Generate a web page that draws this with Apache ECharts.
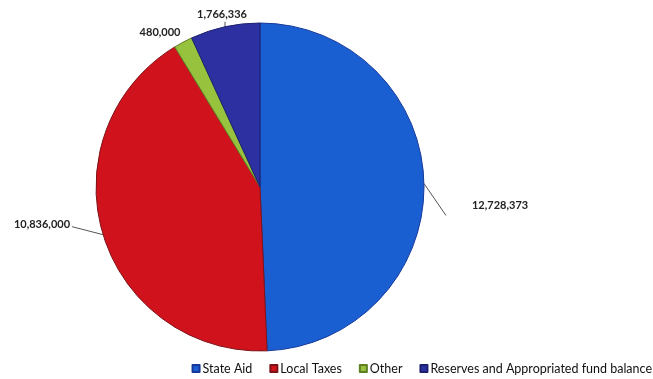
<!DOCTYPE html>
<html>
<head>
<meta charset="utf-8">
<script src="https://cdn.jsdelivr.net/npm/echarts@6/dist/echarts.min.js"></script>
<style>html,body{margin:0;padding:0;background:#fff}#c{width:653px;height:379px}</style>
</head>
<body>
<div id="c"></div>
<script>
const categories = ['State Aid', 'Local Taxes', 'Other', 'Reserves and Appropriated fund balance'];
const values = [12728373, 10836000, 480000, 1766336];
const colors = ['#1a5fd2', '#d0121c', '#96c23e', '#2c30a0'];
const borders = ['#15389a', '#7d1218', '#5f7d22', '#1b206e'];
// leader-line end and label anchor, as offsets from the slice's edge point
const lineEnd = [[22, 32], [-31, -8], [0, 0], [0, -5]];
const labelAt = [[48, 22], [-33, -10], [-23, -10], [-3, -12]];
const labelAlign = ['left', 'right', 'center', 'center'];

const chart = echarts.init(document.getElementById('c'));
chart.setOption({
  animation: false,
  textStyle: { fontFamily: 'Lato' },
  legend: {
    data: categories,
    right: 1,
    top: 362,
    padding: 0,
    icon: 'rect',
    itemWidth: 7,
    itemHeight: 7,
    itemGap: 17,
    textStyle: { fontSize: 12.5, color: '#111', fontFamily: 'Lato', padding: [0, 0, 0, -2] }
  },
  series: [{
    type: 'pie',
    center: [260, 187],
    radius: 164,
    startAngle: 90,
    clockwise: true,
    avoidLabelOverlap: false,
    data: categories.map((n, i) => ({
      name: n, value: values[i],
      itemStyle: { color: colors[i], borderColor: borders[i], borderWidth: 1 }
    })),
    label: {
      show: true,
      formatter: p => p.value.toLocaleString('en-US'),
      fontFamily: 'Lato',
      fontSize: 11,
      fontWeight: 'bold',
      color: '#222'
    },
    labelLine: { show: true, length: 14, length2: 18, lineStyle: { color: '#555', width: 1 } },
    labelLayout: p => {
      const i = p.dataIndex;
      const e = p.labelLinePoints[0];
      return {
        x: e[0] + labelAt[i][0],
        y: e[1] + labelAt[i][1],
        align: labelAlign[i],
        verticalAlign: 'middle',
        labelLinePoints: [[e[0], e[1]], [e[0] + lineEnd[i][0], e[1] + lineEnd[i][1]], [e[0] + lineEnd[i][0], e[1] + lineEnd[i][1]]]
      };
    }
  }]
});
</script>
</body>
</html>
